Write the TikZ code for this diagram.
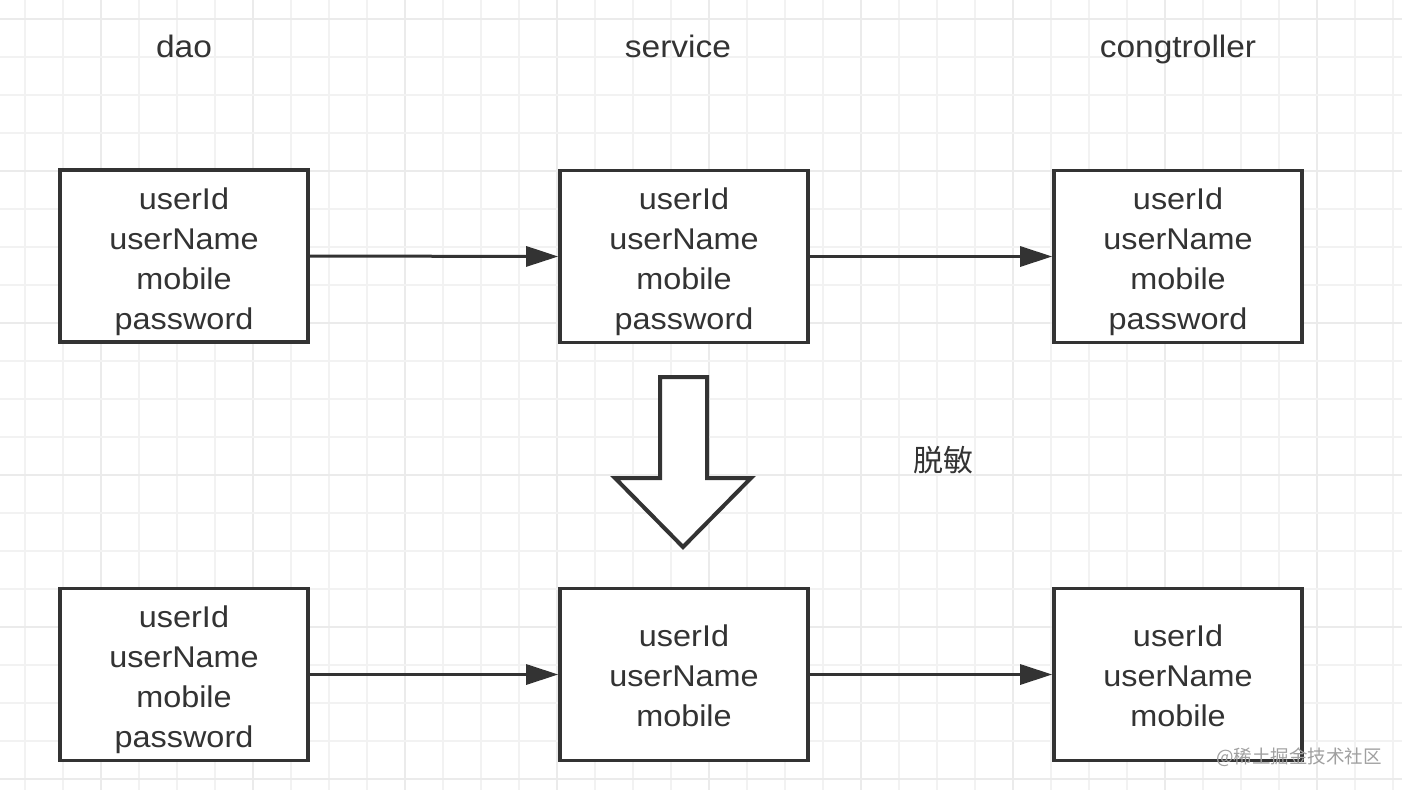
\documentclass[tikz,border=0pt]{standalone}
\usepackage{fontspec}
\setmainfont[FakeStretch=1.08]{Liberation Sans}
\newfontfamily\cjk{Noto Sans CJK SC}
\usetikzlibrary{arrows.meta}
\definecolor{ink}{HTML}{333333}
\definecolor{gridminor}{HTML}{F2F2F2}
\definecolor{gridmajor}{HTML}{EBEBEB}
\definecolor{wm}{HTML}{A0A0A0}
\tikzset{
  fieldbox/.style={draw=ink, line width=3.6pt, fill=white, minimum width=248pt, minimum height=172pt, inner sep=0pt},
  fieldtext/.style={align=center, text=ink, inner sep=0pt, font=\fontsize{30}{40}\selectfont},
  header/.style={text=ink, font=\fontsize{31}{36}\selectfont, inner sep=0pt, anchor=base},
  flow/.style={draw=ink, line width=3pt, -{Triangle[length=32pt,width=20pt]}},
  blockarrow/.style={draw=ink, line width=4pt, fill=white, line join=miter}
}
\begin{document}
\begin{tikzpicture}[x=1pt,y=-1pt]
\useasboundingbox (0,0) rectangle (1402,790);
\fill[white] (0,0) rectangle (1402,790);
% grid
\foreach \i in {0,...,36} {
  \pgfmathtruncatemacro{\m}{mod(\i,4)==2 ? 1 : 0}
  \ifnum\m=1
    \draw[gridmajor, line width=1.5pt] ({25+38*\i},0) -- ({25+38*\i},790);
  \else
    \draw[gridminor, line width=1.2pt] ({25+38*\i},0) -- ({25+38*\i},790);
  \fi
}
\foreach \j in {0,...,20} {
  \pgfmathtruncatemacro{\m}{mod(\j,4)==0 ? 1 : 0}
  \ifnum\m=1
    \draw[gridmajor, line width=1.5pt] (0,{19+38*\j}) -- (1402,{19+38*\j});
  \else
    \draw[gridminor, line width=1.2pt] (0,{19+38*\j}) -- (1402,{19+38*\j});
  \fi
}
% headers
\node[header] (hdao) at (184,57) {dao};
\node[header] (hsvc) at (678,57) {service};
\node[header] (hctl) at (1178,57) {congtroller};
% top row
\node[fieldbox] (t1) at (184,256) {};
\node[fieldbox] (t2) at (684,256.5) {};
\node[fieldbox] (t3) at (1178,256.5) {};
\node[fieldtext] (t1txt) at ([yshift=-6pt]t1.center) {userId\\userName\\mobile\\password};
\node[fieldtext] (t2txt) at ([yshift=-5pt]t2.center) {userId\\userName\\mobile\\password};
\node[fieldtext] (t3txt) at ([yshift=-5pt]t3.center) {userId\\userName\\mobile\\password};
% bottom row
\node[fieldbox] (b1) at (184,674.5) {};
\node[fieldbox] (b2) at (684,674.5) {};
\node[fieldbox] (b3) at (1178,674.5) {};
\node[fieldtext] (b1txt) at ([yshift=-5pt]b1.center) {userId\\userName\\mobile\\password};
\node[fieldtext] (b2txt) at ([yshift=-1pt]b2.center) {userId\\userName\\mobile};
\node[fieldtext] (b3txt) at ([yshift=-1pt]b3.center) {userId\\userName\\mobile};
% connectors
\draw[flow] (t1.east) -- (t2.west);
\draw[flow] (t2.east) -- (t3.west);
\draw[flow] (b1.east) -- (b2.west);
\draw[flow] (b2.east) -- (b3.west);
% block arrow
\draw[blockarrow] (660,377) -- (707,377) -- (707,478) -- (751,478) -- (683,547) -- (615,478) -- (660,478) -- cycle;
% label
\node[text=ink, inner sep=0pt, font=\cjk\fontsize{30}{34}\selectfont] (lbl) at (943,460) {脱敏};
% watermark
\node[text=wm, inner sep=0pt, font=\cjk\fontsize{18.5}{22}\selectfont] (wmk) at (1299,757) {@稀土掘金技术社区};
\end{tikzpicture}
\end{document}
